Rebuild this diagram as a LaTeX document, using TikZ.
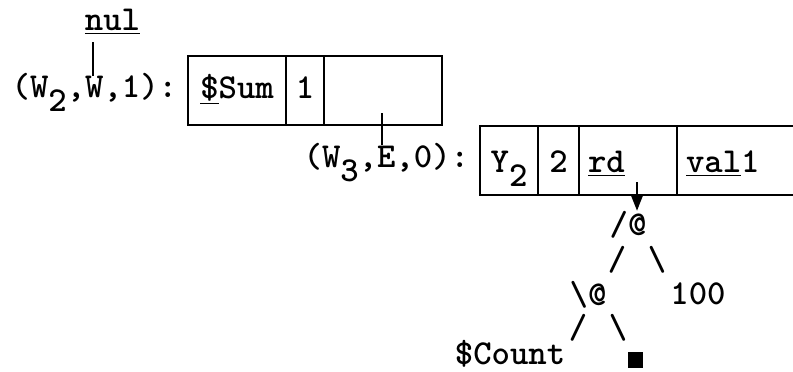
\documentclass[tikz,border=0pt]{standalone}
\usetikzlibrary{arrows.meta}
\newcommand\lowsub[1]{\raisebox{-0.42em}{#1}}
\begin{document}
\begin{tikzpicture}[x=0.5pt,y=-0.5pt,
  font=\ttfamily\bfseries\fontsize{17.5}{20}\selectfont,
  txt/.style={inner sep=0pt,outer sep=0pt},
  cellA/.style={draw,line width=1.2pt,minimum height=34.5pt,inner sep=0pt,outer sep=0pt,anchor=north west,text height=7.5pt,text depth=0pt},
  cellB/.style={draw,line width=1.2pt,minimum height=34.5pt,inner sep=0pt,outer sep=0pt,anchor=north west,text height=11.5pt,text depth=0pt},
  link/.style={line width=1.1pt},
  ptr/.style={line width=1.1pt,-{Triangle[length=8pt,width=6pt]}}]
\useasboundingbox (0,0) rectangle (793,371);

% labels
\node[txt,anchor=base] (nul) at (112.5,30) {\underline{nul}};
\node[txt,anchor=base east] (lab1) at (177,97) {(W\lowsub{2},W,1):};
\node[txt,anchor=base east] (lab2) at (469,167) {(W\lowsub{3},E,0):};

% box 1
\node[cellA,minimum width=49pt] (c1) at (188,56) {\underline{\$}Sum};
\node[cellA,minimum width=19pt] (c2) at (c1.north east) {1};
\node[cellA,minimum width=59pt] (c3) at (c2.north east) {};

% box 2
\node[cellB,minimum width=29pt] (d1) at (480,126) {Y\lowsub{2}};
\node[cellB,minimum width=20.5pt] (d2) at (d1.north east) {2};
\node[cellB,minimum width=49pt,text width=40pt,align=left,inner xsep=4.5pt] (d3) at (d2.north east) {\underline{rd}};
\node[cellB,draw=none,minimum width=58pt,text width=49pt,align=left,inner xsep=4.5pt] (d4) at (d3.north east) {\underline{val}1};
\draw[line width=1.2pt] (d4.north west) -- (d4.north east);
\draw[line width=1.2pt] (d4.south west) -- (d4.south east);

% tree
\node[txt,anchor=base] (t1) at (628,235) {/@};
\node[txt,anchor=base] (s1) at (617,270) {/};
\node[txt,anchor=base] (s2) at (657,270) {\textbackslash};
\node[txt,anchor=base] (t2) at (588,305) {\textbackslash @};
\node[txt,anchor=base] (n100) at (698,304) {100};
\node[txt,anchor=base] (s3) at (578,338) {/};
\node[txt,anchor=base] (s4) at (618,338) {\textbackslash};
\node[txt,anchor=base] (cnt) at (510,364) {\$Count};
\node[fill,inner sep=0pt,minimum width=7.5pt,minimum height=8pt] (blk) at (635.5,360) {};

% connectors
\coordinate (nultail) at (93,42);
\coordinate (wtop) at (93,76);
\draw[link] (nultail) -- (wtop);
\coordinate (c3tail) at (382,113);
\coordinate (etop) at (382,145);
\draw[link] (c3tail) -- (etop);
\coordinate (rdtail) at (637,182);
\draw[ptr] (rdtail) -- (rdtail |- t1.north);
\end{tikzpicture}
\end{document}
